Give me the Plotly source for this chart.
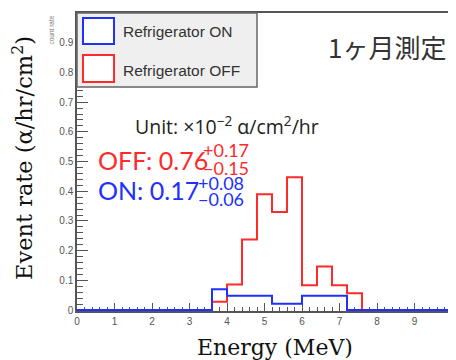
import plotly.graph_objects as go

# ---- data ----
bin_edges = [0.0, 0.4, 0.8, 1.2, 1.6, 2.0, 2.4, 2.8, 3.2, 3.6, 4.0, 4.4, 4.8,
             5.2, 5.6, 6.0, 6.4, 6.8, 7.2, 7.6, 8.0, 8.4, 8.8, 9.2, 9.6, 10.0]
rate_off = [0, 0, 0, 0, 0, 0, 0, 0, 0, 0.028, 0.086, 0.238, 0.390, 0.330,
            0.447, 0.084, 0.147, 0.084, 0.057, 0, 0, 0, 0, 0, 0]
rate_on = [0, 0, 0, 0, 0, 0, 0, 0, 0, 0.070, 0.048, 0.048, 0.048, 0.021,
           0.021, 0.048, 0.048, 0.048, 0, 0, 0, 0, 0, 0, 0]
series_names = ["Refrigerator ON", "Refrigerator OFF"]
x_title = "Energy (MeV)"
y_title = "Event rate (α/hr/cm<sup>2</sup>)"

RED = "#ff2a2a"
BLUE = "#2030ff"
# page body margin offsets the figure by 8px; lay out in screen pixels
OFF = 8
W, H = 456 - OFF, 360 - OFF
L, R, T, B = 77 - OFF, 4, 13 - OFF, 49
PW, PH = W - L - R, H - T - B


def px(x):
    return (x - OFF - L) / PW


def py(y):
    return (H - B - (y - OFF)) / PH


fig = go.Figure()
fig.add_trace(go.Scatter(x=bin_edges, y=rate_off + [rate_off[-1]], mode="lines",
                         line=dict(color=RED, width=2, shape="hv"),
                         name=series_names[1], showlegend=False))
fig.add_trace(go.Scatter(x=bin_edges, y=rate_on + [rate_on[-1]], mode="lines",
                         line=dict(color=BLUE, width=2, shape="hv"),
                         name=series_names[0], showlegend=False))

axis_common = dict(showgrid=False, zeroline=False, showline=True, mirror=True,
                   linecolor="#555", linewidth=1.5, ticks="inside",
                   tickcolor="#555", tickwidth=1, automargin=False,
                   tickfont=dict(family="Liberation Sans, Arial", size=10, color="#555"),
                   layer="below traces")

fig.update_layout(
    width=W, height=H, margin=dict(l=L, r=R, t=T, b=B, autoexpand=False),
    paper_bgcolor="white", plot_bgcolor="white", showlegend=False,
    xaxis=dict(range=[0, 10], tick0=0, dtick=1, ticklen=8,
               minor=dict(dtick=0.2, ticks="inside", ticklen=4, tickcolor="#555"),
               **axis_common),
    yaxis=dict(range=[-0.003, 1], tick0=0, dtick=0.1, ticklen=11,
               minor=dict(dtick=0.02, ticks="inside", ticklen=6, tickcolor="#555"),
               **axis_common),
)

shapes = [
    # legend box
    dict(type="rect", xref="paper", yref="paper", x0=0, x1=px(257), y0=py(87), y1=1,
         fillcolor="#efefef", line=dict(color="#666", width=1.5), layer="above"),
    dict(type="rect", xref="paper", yref="paper", x0=px(83), x1=px(114), y0=py(44), y1=py(18),
         fillcolor="white", line=dict(color=BLUE, width=2), layer="above"),
    dict(type="rect", xref="paper", yref="paper", x0=px(83), x1=px(114), y0=py(82), y1=py(55),
         fillcolor="white", line=dict(color=RED, width=2), layer="above"),
]
fig.update_layout(shapes=shapes)

serif = "DejaVu Serif, Liberation Serif, serif"
sans = "Open Sans, Noto Sans, sans-serif"
lato = "Lato, Open Sans, sans-serif"
ann = [
    dict(text=series_names[0], x=px(121), y=py(32), xanchor="left", yanchor="middle",
         font=dict(family="Liberation Sans, Arial", size=15.5, color="#333")),
    dict(text=series_names[1], x=px(121), y=py(70), xanchor="left", yanchor="middle",
         font=dict(family="Liberation Sans, Arial", size=15.5, color="#333")),
    dict(text="count rate", x=px(51), y=py(14), xanchor="center", yanchor="top",
         textangle=-90, font=dict(family="Liberation Sans, Arial", size=6.5, color="#777")),
    dict(text="1ヶ月測定", x=px(448), y=py(47), xanchor="right", yanchor="middle",
         font=dict(family="Noto Sans CJK JP", size=26, color="#333")),
    dict(text="Unit: ×10<sup>−2</sup> α/cm<sup>2</sup>/hr", x=px(133), y=py(126),
         xanchor="left", yanchor="middle", font=dict(family=sans, size=19.5, color="#222")),
    dict(text="OFF: 0.76", x=px(96), y=py(160), xanchor="left", yanchor="middle",
         font=dict(family=lato, size=25, color=RED)),
    dict(text="+0.17", x=px(201), y=py(150), xanchor="left", yanchor="middle",
         font=dict(family=lato, size=18, color=RED)),
    dict(text="−0.15", x=px(201), y=py(168), xanchor="left", yanchor="middle",
         font=dict(family=lato, size=18, color=RED)),
    dict(text="ON: 0.17", x=px(96), y=py(190), xanchor="left", yanchor="middle",
         font=dict(family=lato, size=25, color=BLUE)),
    dict(text="+0.08", x=px(196), y=py(183), xanchor="left", yanchor="middle",
         font=dict(family=lato, size=18, color=BLUE)),
    dict(text="−0.06", x=px(196), y=py(199), xanchor="left", yanchor="middle",
         font=dict(family=lato, size=18, color=BLUE)),
    dict(text=x_title, x=px(275), y=py(347), xanchor="center", yanchor="middle",
         font=dict(family=serif, size=22, color="#111")),
    dict(text=y_title, x=px(22), y=py(158), xanchor="center", yanchor="middle",
         textangle=-90, font=dict(family=serif, size=22.5, color="#111")),
]
for a in ann:
    a.update(xref="paper", yref="paper", showarrow=False)
fig.update_layout(annotations=ann)

fig.write_html("out.html")
